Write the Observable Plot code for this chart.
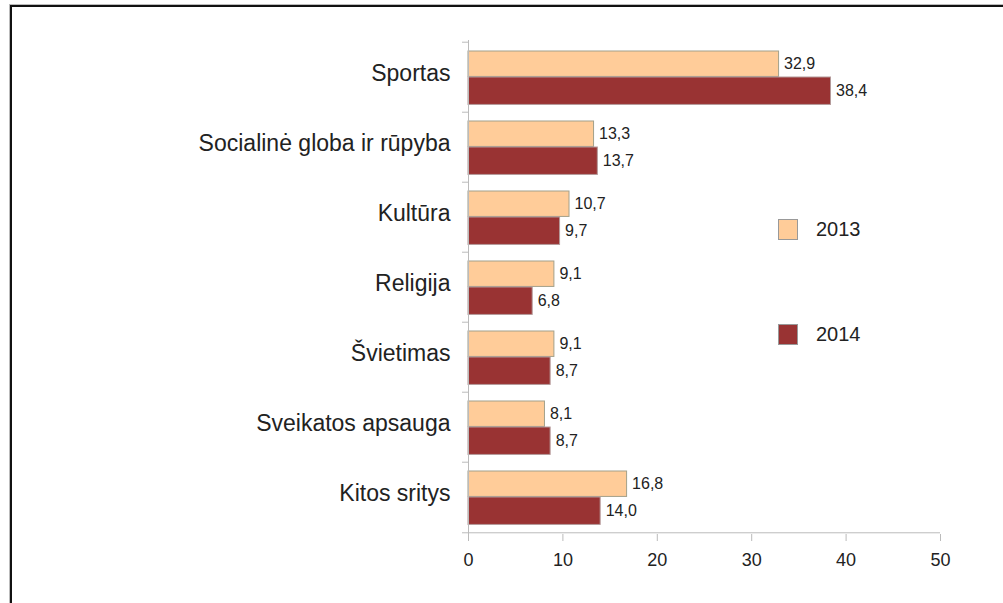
<!DOCTYPE html>
<html>
<head>
<meta charset="utf-8">
<script src="https://cdn.jsdelivr.net/npm/d3@7"></script>
<script src="https://cdn.jsdelivr.net/npm/@observablehq/plot@0.6"></script>
<style>
  html, body { margin: 0; padding: 0; background: #fff; }
  #wrap { position: relative; width: 1003px; height: 603px; overflow: hidden; font-family: "Liberation Sans", Arial, sans-serif; }
  #frame { position: absolute; left: 10px; top: 5px; width: 1010px; height: 620px; border-top: 2.5px solid #111; border-left: 2.5px solid #111; box-shadow: -1px -1px 0 #bbb; }
  #chart { position: absolute; left: 0; top: 0; }
  .leg { position: absolute; display: flex; align-items: center; font-size: 20px; color: #222; }
  .leg .sw { width: 18px; height: 19px; border: 1px solid #999; margin-right: 18px; }
</style>
</head>
<body>
<div id="wrap">
  <div id="frame"></div>
  <div id="chart"></div>
  <div id="legend"></div>
</div>
<script>
const categories = ["Sportas", "Socialinė globa ir rūpyba", "Kultūra", "Religija", "Švietimas", "Sveikatos apsauga", "Kitos sritys"];
const years = ["2013", "2014"];
const values2013 = [32.9, 13.3, 10.7, 9.1, 9.1, 8.1, 16.8];
const values2014 = [38.4, 13.7, 9.7, 6.8, 8.7, 8.7, 14.0];
const xTicks = [0, 10, 20, 30, 40, 50];
const colors = ["#FFCC99", "#993333"];

const W = 1003, H = 603, mL = 468, mR = 63, mT = 40, mB = 69;
const step = (H - mT - mB) / categories.length;

const d13 = categories.map((c, i) => ({category: c, year: years[0], value: values2013[i]}));
const d14 = categories.map((c, i) => ({category: c, year: years[1], value: values2014[i]}));
const fmt = v => v.toFixed(1).replace(".", ",");

const chart = Plot.plot({
  width: W, height: H,
  marginLeft: mL, marginRight: mR, marginTop: mT, marginBottom: mB,
  style: {fontFamily: "'Liberation Sans', Arial, sans-serif", background: "transparent", color: "#222"},
  x: {domain: [0, 50], axis: null, label: null},
  y: {domain: categories, padding: 0, axis: null, label: null},
  marks: [
    Plot.barX(d13, {x: "value", y: "category", fill: colors[0], stroke: "#a3a08a", strokeWidth: 1, insetTop: 9, insetBottom: step - 35}),
    Plot.barX(d14, {x: "value", y: "category", fill: colors[1], stroke: "#b49a9a", strokeWidth: 1, insetTop: 35, insetBottom: step - 63}),
    Plot.text(d13, {x: "value", y: "category", text: d => fmt(d.value), dx: 5, dy: -14, textAnchor: "start", fontSize: 16, fill: "#222"}),
    Plot.text(d14, {x: "value", y: "category", text: d => fmt(d.value), dx: 5, dy: 13, textAnchor: "start", fontSize: 16, fill: "#222"}),
    Plot.ruleX([0], {stroke: "#bbb"}),
    Plot.ruleY(categories, {y: d => d, dy: -step / 2, x1: 0, x2: 0, insetLeft: -6, stroke: "#bbb"}),
    Plot.ruleY([categories[categories.length - 1]], {y: d => d, dy: step / 2, x1: 0, x2: 50, insetLeft: -6, stroke: "#bbb"}),
    Plot.axisY({tickSize: 0, tickPadding: 18, fontSize: 23, fill: "#222", dy: -4, label: null}),
    Plot.axisX({ticks: xTicks, tickSize: 7, tickPadding: 12, fontSize: 18, stroke: "#bbb", fill: "#222", label: null})
  ]
});
document.getElementById("chart").appendChild(chart);

const legend = document.getElementById("legend");
const legTops = [218, 323];
years.forEach((y, i) => {
  const el = document.createElement("div");
  el.className = "leg";
  el.style.left = "778px";
  el.style.top = legTops[i] + "px";
  el.innerHTML = `<div class="sw" style="background:${colors[i]}"></div><span>${y}</span>`;
  legend.appendChild(el);
});
</script>
</body>
</html>
